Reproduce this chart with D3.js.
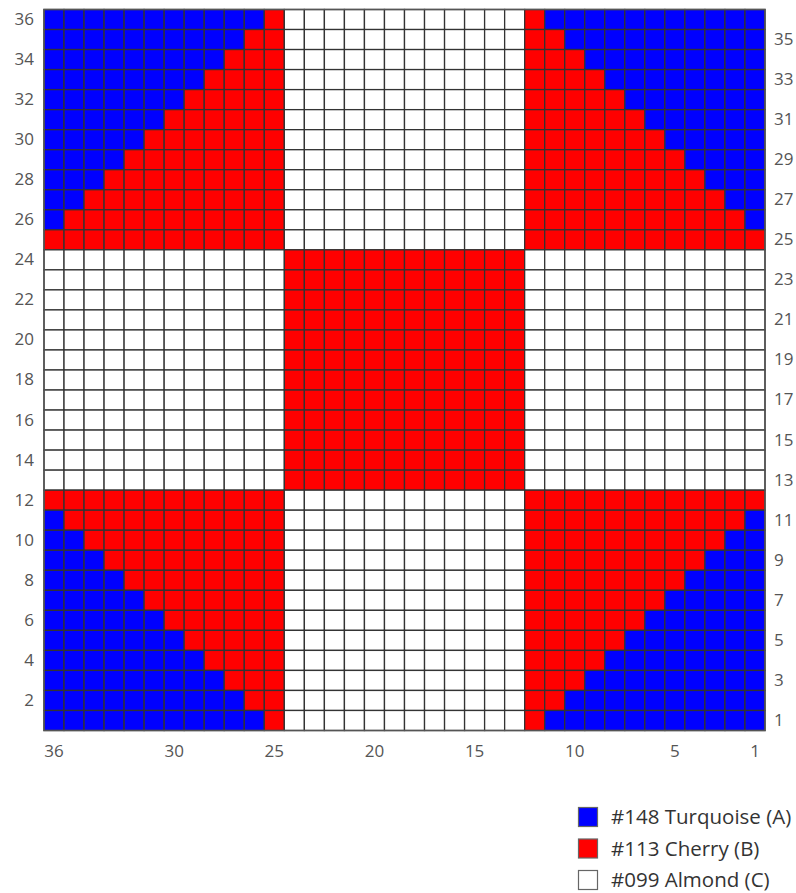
<!DOCTYPE html>
<html><head><meta charset="utf-8">
<script src="https://cdn.jsdelivr.net/npm/d3@7/dist/d3.min.js"></script>
<style>
html,body{margin:0;padding:0;background:#fff;}
svg{display:block;}
.axis text{font-family:"Open Sans",sans-serif;font-size:17px;fill:#555;}
.legend text{font-family:"Open Sans",sans-serif;font-size:20.5px;fill:#333;}
</style></head>
<body>
<script>
// Row labels from top (36) to bottom (1); column labels from left (36) to right (1)
const rowNumbers = d3.range(36, 0, -1);
const colNumbers = d3.range(36, 0, -1);
// Pattern: each string is one row (top to bottom), each char one column (left to right)
const pattern = [
  "AAAAAAAAAAABCCCCCCCCCCCCBAAAAAAAAAAA",
  "AAAAAAAAAABBCCCCCCCCCCCCBBAAAAAAAAAA",
  "AAAAAAAAABBBCCCCCCCCCCCCBBBAAAAAAAAA",
  "AAAAAAAABBBBCCCCCCCCCCCCBBBBAAAAAAAA",
  "AAAAAAABBBBBCCCCCCCCCCCCBBBBBAAAAAAA",
  "AAAAAABBBBBBCCCCCCCCCCCCBBBBBBAAAAAA",
  "AAAAABBBBBBBCCCCCCCCCCCCBBBBBBBAAAAA",
  "AAAABBBBBBBBCCCCCCCCCCCCBBBBBBBBAAAA",
  "AAABBBBBBBBBCCCCCCCCCCCCBBBBBBBBBAAA",
  "AABBBBBBBBBBCCCCCCCCCCCCBBBBBBBBBBAA",
  "ABBBBBBBBBBBCCCCCCCCCCCCBBBBBBBBBBBA",
  "BBBBBBBBBBBBCCCCCCCCCCCCBBBBBBBBBBBB",
  "CCCCCCCCCCCCBBBBBBBBBBBBCCCCCCCCCCCC",
  "CCCCCCCCCCCCBBBBBBBBBBBBCCCCCCCCCCCC",
  "CCCCCCCCCCCCBBBBBBBBBBBBCCCCCCCCCCCC",
  "CCCCCCCCCCCCBBBBBBBBBBBBCCCCCCCCCCCC",
  "CCCCCCCCCCCCBBBBBBBBBBBBCCCCCCCCCCCC",
  "CCCCCCCCCCCCBBBBBBBBBBBBCCCCCCCCCCCC",
  "CCCCCCCCCCCCBBBBBBBBBBBBCCCCCCCCCCCC",
  "CCCCCCCCCCCCBBBBBBBBBBBBCCCCCCCCCCCC",
  "CCCCCCCCCCCCBBBBBBBBBBBBCCCCCCCCCCCC",
  "CCCCCCCCCCCCBBBBBBBBBBBBCCCCCCCCCCCC",
  "CCCCCCCCCCCCBBBBBBBBBBBBCCCCCCCCCCCC",
  "CCCCCCCCCCCCBBBBBBBBBBBBCCCCCCCCCCCC",
  "BBBBBBBBBBBBCCCCCCCCCCCCBBBBBBBBBBBB",
  "ABBBBBBBBBBBCCCCCCCCCCCCBBBBBBBBBBBA",
  "AABBBBBBBBBBCCCCCCCCCCCCBBBBBBBBBBAA",
  "AAABBBBBBBBBCCCCCCCCCCCCBBBBBBBBBAAA",
  "AAAABBBBBBBBCCCCCCCCCCCCBBBBBBBBAAAA",
  "AAAAABBBBBBBCCCCCCCCCCCCBBBBBBBAAAAA",
  "AAAAAABBBBBBCCCCCCCCCCCCBBBBBBAAAAAA",
  "AAAAAAABBBBBCCCCCCCCCCCCBBBBBAAAAAAA",
  "AAAAAAAABBBBCCCCCCCCCCCCBBBBAAAAAAAA",
  "AAAAAAAAABBBCCCCCCCCCCCCBBBAAAAAAAAA",
  "AAAAAAAAAABBCCCCCCCCCCCCBBAAAAAAAAAA",
  "AAAAAAAAAAABCCCCCCCCCCCCBAAAAAAAAAAA"
];
const leftTicks = [36,34,32,30,28,26,24,22,20,18,16,14,12,10,8,6,4,2];
const rightTicks = [35,33,31,29,27,25,23,21,19,17,15,13,11,9,7,5,3,1];
const bottomTicks = [36,30,25,20,15,10,5,1];
const colorKeys = ["A","B","C"];
const colorValues = ["#0000ff","#ff0000","#ffffff"];
const legendLabels = ["#148 Turquoise (A)","#113 Cherry (B)","#099 Almond (C)"];

const W = 796, H = 893;
const gx0 = 44, gy0 = 9.5, gsize = 721;

const svg = d3.select("body").append("svg").attr("width", W).attr("height", H);

const x = d3.scaleBand().domain(colNumbers).range([gx0, gx0 + gsize]);
const y = d3.scaleBand().domain(rowNumbers).range([gy0, gy0 + gsize]);
const color = d3.scaleOrdinal().domain(colorKeys).range(colorValues);

const cells = [];
pattern.forEach((row, i) => {
  row.split("").forEach((c, j) => cells.push({r: rowNumbers[i], c: colNumbers[j], k: c}));
});

svg.append("g").selectAll("rect").data(cells).join("rect")
  .attr("x", d => x(d.c)).attr("y", d => y(d.r))
  .attr("width", x.bandwidth()).attr("height", y.bandwidth())
  .attr("fill", d => color(d.k))
  .attr("stroke", "#333").attr("stroke-width", 1.3);

svg.append("rect").attr("x", gx0).attr("y", gy0).attr("width", gsize).attr("height", gsize)
  .attr("fill", "none").attr("stroke", "#555").attr("stroke-width", 1.5);

const gl = svg.append("g").attr("class", "axis").attr("transform", `translate(${gx0 - 10},0)`)
  .call(d3.axisLeft(y).tickValues(leftTicks).tickSize(0).tickPadding(0));
gl.select(".domain").remove();
gl.selectAll("text").attr("font-family", null).attr("font-size", null).attr("fill", null);

const gr = svg.append("g").attr("class", "axis").attr("transform", `translate(${gx0 + gsize + 9},0)`)
  .call(d3.axisRight(y).tickValues(rightTicks).tickSize(0).tickPadding(0));
gr.select(".domain").remove();
gr.selectAll("text").attr("font-family", null).attr("font-size", null).attr("fill", null);

const gb = svg.append("g").attr("class", "axis").attr("transform", `translate(0,${gy0 + gsize + 14})`)
  .call(d3.axisBottom(x).tickValues(bottomTicks).tickSize(0).tickPadding(0));
gb.select(".domain").remove();
gb.selectAll("text").attr("font-family", null).attr("font-size", null).attr("fill", null);

const lg = svg.append("g").attr("class", "legend").attr("transform", "translate(578,807)");
const li = lg.selectAll("g").data(colorKeys).join("g")
  .attr("transform", (d, i) => `translate(0,${i * 31.5})`);
li.append("rect").attr("x", 0.5).attr("y", 0.5).attr("width", 19).attr("height", 19)
  .attr("fill", d => color(d)).attr("stroke", "#666").attr("stroke-width", 1.2);
li.append("text").attr("x", 33).attr("y", 10).attr("dy", "0.35em")
  .text((d, i) => legendLabels[i]);
</script>
</body></html>
